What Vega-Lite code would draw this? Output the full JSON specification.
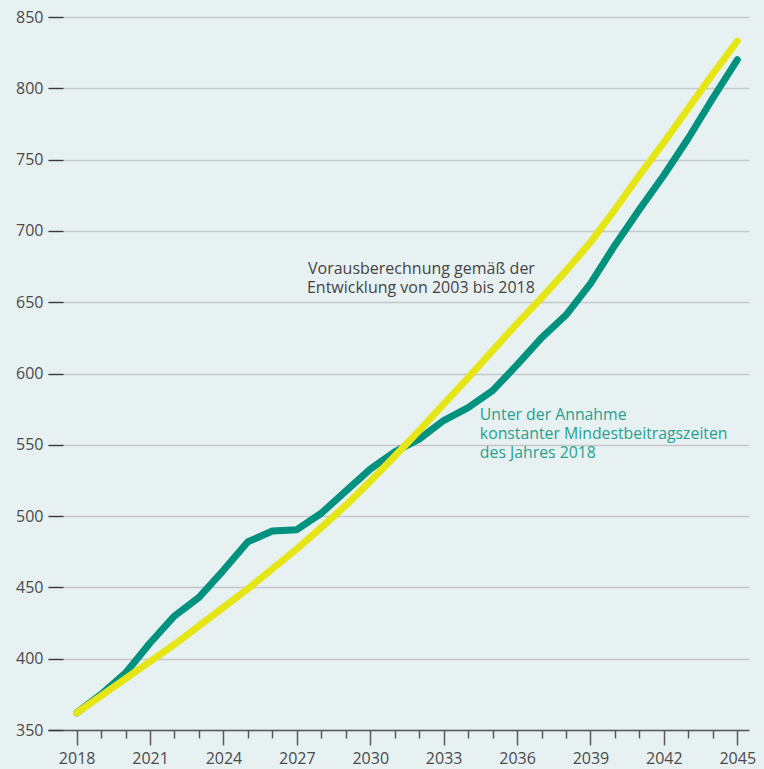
{
  "$schema": "https://vega.github.io/schema/vega-lite/v6.json",
  "width": 701,
  "height": 713,
  "autosize": "none",
  "padding": {"left": 48, "top": 17, "right": 15, "bottom": 39},
  "background": "#e8f1f2",
  "config": {"view": {"stroke": null}, "font": "Open Sans"},
  "datasets": {
    "series": [
      {"year": 2018, "konstant": 362, "trend": 362},
      {"year": 2019, "konstant": 375, "trend": 374},
      {"year": 2020, "konstant": 390, "trend": 386},
      {"year": 2021, "konstant": 411, "trend": 398},
      {"year": 2022, "konstant": 430, "trend": 410},
      {"year": 2023, "konstant": 443, "trend": 423},
      {"year": 2024, "konstant": 462, "trend": 436},
      {"year": 2025, "konstant": 482, "trend": 449},
      {"year": 2026, "konstant": 489.5, "trend": 463},
      {"year": 2027, "konstant": 490.5, "trend": 477},
      {"year": 2028, "konstant": 502, "trend": 492},
      {"year": 2029, "konstant": 517.5, "trend": 507.5},
      {"year": 2030, "konstant": 533, "trend": 524.5},
      {"year": 2031, "konstant": 545, "trend": 542},
      {"year": 2032, "konstant": 554, "trend": 560},
      {"year": 2033, "konstant": 567, "trend": 578.5},
      {"year": 2034, "konstant": 576, "trend": 597},
      {"year": 2035, "konstant": 588, "trend": 616},
      {"year": 2036, "konstant": 606, "trend": 635},
      {"year": 2037, "konstant": 625, "trend": 653},
      {"year": 2038, "konstant": 641, "trend": 672},
      {"year": 2039, "konstant": 663, "trend": 692},
      {"year": 2040, "konstant": 690, "trend": 715},
      {"year": 2041, "konstant": 715, "trend": 739},
      {"year": 2042, "konstant": 739, "trend": 762},
      {"year": 2043, "konstant": 765, "trend": 786},
      {"year": 2044, "konstant": 793, "trend": 810},
      {"year": 2045, "konstant": 820, "trend": 833}
    ],
    "notes": [
      {"note": "trend", "year": 2036.73, "value": 669.8, "label": "Vorausberechnung gemäß der\nEntwicklung von 2003 bis 2018"},
      {"note": "konstant", "year": 2034.48, "value": 567.4, "label": "Unter der Annahme\nkonstanter Mindestbeitragszeiten\ndes Jahres 2018"}
    ]
  },
  "resolve": {"axis": {"x": "independent"}},
  "layer": [
    {
      "data": {"name": "series"},
      "mark": {"type": "line", "color": "#00927f", "strokeWidth": 7, "strokeCap": "round", "strokeJoin": "round"},
      "encoding": {
        "x": {
          "field": "year", "type": "quantitative",
          "scale": {"domain": [2016.83, 2045.48], "nice": false, "zero": false},
          "axis": {
            "orient": "bottom",
            "title": null,
            "grid": false,
            "values": [2018, 2021, 2024, 2027, 2030, 2033, 2036, 2039, 2042, 2045],
            "format": "d",
            "labelOverlap": false,
            "labelFlush": false,
            "domainColor": "#5a5a5a",
            "domainWidth": 1.5,
            "tickColor": "#5a5a5a",
            "tickWidth": 1.5,
            "tickSize": 15,
            "labelFontSize": 16,
            "labelColor": "#4a4a4a",
            "labelPadding": 5
          }
        },
        "y": {
          "field": "konstant", "type": "quantitative",
          "scale": {"domain": [350, 850], "nice": false, "zero": false},
          "axis": {
            "title": null,
            "values": [350, 400, 450, 500, 550, 600, 650, 700, 750, 800, 850],
            "grid": true,
            "gridColor": "#c4c8ca",
            "gridWidth": 1.3,
            "domain": false,
            "offset": -15,
            "tickSize": 15,
            "tickColor": "#3a3a3a",
            "tickWidth": 1.3,
            "labelPadding": 5,
            "labelFontSize": 16,
            "labelColor": "#4a4a4a"
          }
        }
      }
    },
    {
      "data": {"name": "series"},
      "mark": {"type": "line", "color": "#e6e617", "strokeWidth": 7, "strokeCap": "round", "strokeJoin": "round"},
      "encoding": {
        "x": {
          "field": "year", "type": "quantitative",
          "axis": {
            "orient": "bottom",
            "title": null,
            "grid": false,
            "domain": false,
            "labels": false,
            "values": [2019, 2020, 2022, 2023, 2025, 2026, 2028, 2029, 2031, 2032, 2034, 2035, 2037, 2038, 2040, 2041, 2043, 2044],
            "tickColor": "#5a5a5a",
            "tickWidth": 1.5,
            "tickSize": 8
          }
        },
        "y": {"field": "trend", "type": "quantitative"}
      }
    },
    {
      "data": {"name": "notes"},
      "transform": [{"filter": "datum.note === 'trend'"}],
      "mark": {"type": "text", "lineBreak": "\n", "align": "right", "baseline": "alphabetic", "fontSize": 16, "lineHeight": 19, "color": "#444444"},
      "encoding": {
        "x": {"field": "year", "type": "quantitative", "axis": null},
        "y": {"field": "value", "type": "quantitative"},
        "text": {"field": "label"}
      }
    },
    {
      "data": {"name": "notes"},
      "transform": [{"filter": "datum.note === 'konstant'"}],
      "mark": {"type": "text", "lineBreak": "\n", "align": "left", "baseline": "alphabetic", "fontSize": 15.8, "lineHeight": 19, "color": "#26a090"},
      "encoding": {
        "x": {"field": "year", "type": "quantitative", "axis": null},
        "y": {"field": "value", "type": "quantitative"},
        "text": {"field": "label"}
      }
    }
  ]
}
